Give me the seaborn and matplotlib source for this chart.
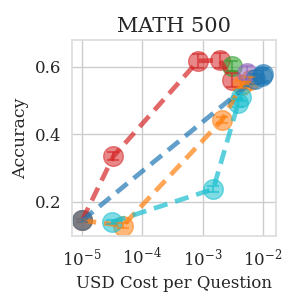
import numpy as np
import pandas as pd
import matplotlib
matplotlib.use("Agg")
import matplotlib.pyplot as plt
import seaborn as sns

# data
red_cost = [1e-5, 3.3e-5, 8.4e-4, 1.95e-3, 3.1e-3]
red_acc = [0.145, 0.335, 0.618, 0.620, 0.561]
red_err = [0.005, 0.012, 0.020, 0.022, 0.020]

blue_cost = [1e-5, 7.5e-3, 9.5e-3, 1.0e-2]
blue_acc = [0.145, 0.565, 0.572, 0.578]
blue_err = [0.005, 0.015, 0.020, 0.020]

orange_cost = [1e-5, 4.8e-5, 2.1e-3, 4.5e-3, 6.0e-3]
orange_acc = [0.145, 0.130, 0.443, 0.548, 0.560]
orange_err = [0.005, 0.008, 0.010, 0.010, 0.010]

cyan_cost = [3.1e-5, 1.5e-3, 3.9e-3, 4.3e-3]
cyan_acc = [0.140, 0.238, 0.493, 0.512]
cyan_err = [0.006, 0.008, 0.012, 0.012]

green_cost = [3.1e-3]
green_acc = [0.603]
green_err = [0.015]

purple_cost = [5.4e-3]
purple_acc = [0.582]
purple_err = [0.020]

series = [
    ("red", red_cost, red_acc, red_err, "#d62728"),
    ("orange", orange_cost, orange_acc, orange_err, "#ff7f0e"),
    ("cyan", cyan_cost, cyan_acc, cyan_err, "#17becf"),
    ("green", green_cost, green_acc, green_err, "#2ca02c"),
    ("purple", purple_cost, purple_acc, purple_err, "#9467bd"),
    ("blue", blue_cost, blue_acc, blue_err, "#1f77b4"),
]

rows = []
for name, c, a, e, col in series:
    for ci, ai, ei in zip(c, a, e):
        rows.append({"series": name, "cost": ci, "acc": ai, "err": ei})
df = pd.DataFrame(rows)
palette = {name: col for name, _, _, _, col in series}

sns.set_theme(style="whitegrid")
plt.rcParams["font.family"] = ["DejaVu Serif"]

fig = plt.figure(figsize=(2.99, 2.99), dpi=100)
ax = fig.add_axes([72/299, 1-236/299, (276-72)/299, (236-40)/299])

sns.lineplot(data=df, x="cost", y="acc", hue="series", palette=palette,
             sort=False, estimator=None, linestyle="--", linewidth=3.4,
             alpha=0.7, legend=False, ax=ax)
for line in ax.get_lines():
    line.set_dashes((3, 1.7))

for name, c, a, e, col in series:
    ax.errorbar(c, a, yerr=e, fmt="none", ecolor=col, alpha=0.6,
                capsize=4, elinewidth=1.5, capthick=1.5)

for name, c, a, e, col in series:
    sub = df[df["series"] == name]
    sns.scatterplot(data=sub, x="cost", y="acc", color=col,
                    s=200, alpha=0.55, edgecolor=col, linewidth=1,
                    legend=False, ax=ax)

ax.set_xscale("log")
ax.set_xlim(6.8e-6, 1.65e-2)
ax.set_ylim(0.099, 0.68)
ax.set_yticks([0.2, 0.4, 0.6])
ax.set_xticks([1e-5, 1e-4, 1e-3, 1e-2])
ax.minorticks_off()
ax.tick_params(labelsize=12, pad=2)
ax.set_xlabel("USD Cost per Question", fontsize=12)
ax.set_ylabel("Accuracy", fontsize=12.5)
ax.set_title("MATH 500", fontsize=15)
for s in ax.spines.values():
    s.set_color("#dddddd")

fig.savefig("out.png", dpi=100)
